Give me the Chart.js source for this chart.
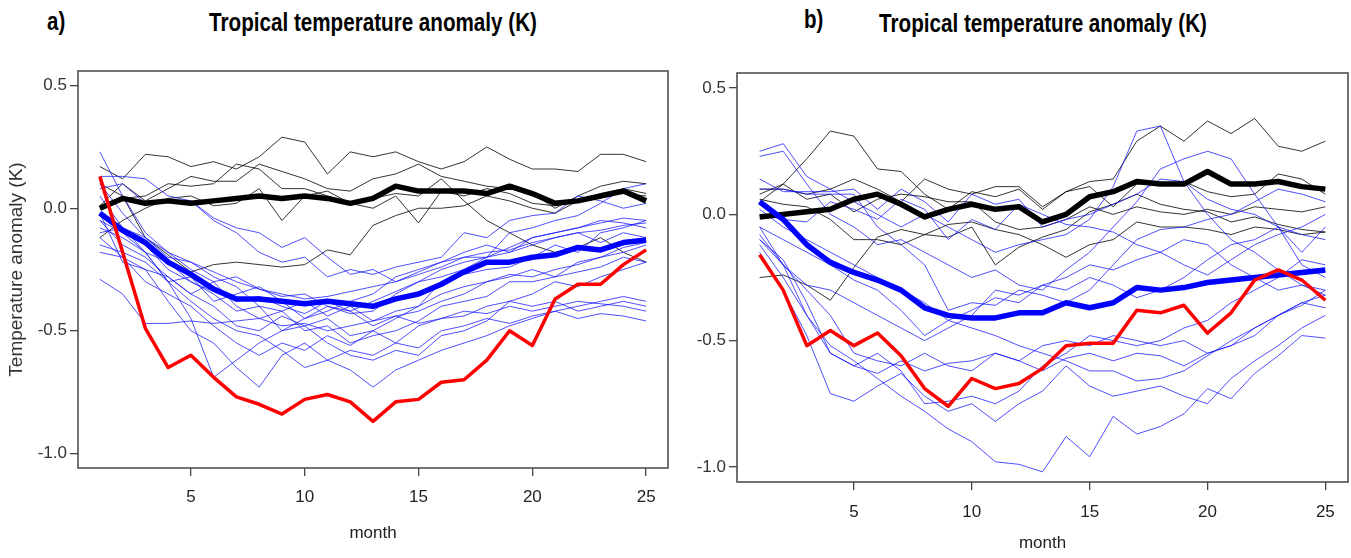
<!DOCTYPE html>
<html><head><meta charset="utf-8">
<script src="https://cdn.jsdelivr.net/npm/chart.js@4"></script>
<style>
body{margin:0;background:#fff;width:1351px;height:558px;overflow:hidden;position:relative}
canvas{position:absolute;top:0}
.t{position:absolute;font-family:'Liberation Sans',Arial,sans-serif;font-weight:bold;color:#000;white-space:nowrap;line-height:1;transform-origin:0 0}
</style></head><body>
<div class="t" style="left:47px;top:9px;font-size:25px;transform:scaleX(0.82)">a)</div>
<div class="t" style="left:373px;top:10px;font-size:25px;transform:scaleX(0.825) translateX(-50%)">Tropical temperature anomaly (K)</div>
<div class="t" style="left:804px;top:7px;font-size:25px;transform:scaleX(0.82)">b)</div>
<div class="t" style="left:1043px;top:11px;font-size:25px;transform:scaleX(0.825) translateX(-50%)">Tropical temperature anomaly (K)</div>
<canvas id="ca" width="680" height="558" style="left:0;width:680px;height:558px"></canvas>
<canvas id="cb" width="671" height="558" style="left:680px;width:671px;height:558px"></canvas>
<script>
const months = [1,2,3,4,5,6,7,8,9,10,11,12,13,14,15,16,17,18,19,20,21,22,23,24,25];
const yTicks = [-1.0, -0.5, 0.0, 0.5];
const xTicks = [5, 10, 15, 20, 25];

// ---- panel a ----
const aRed = [0.13,-0.18,-0.49,-0.65,-0.60,-0.69,-0.77,-0.80,-0.84,-0.78,-0.76,-0.79,-0.87,-0.79,-0.78,-0.71,-0.70,-0.62,-0.50,-0.56,-0.37,-0.31,-0.31,-0.23,-0.17];
const aBlueMean = [-0.02,-0.09,-0.14,-0.22,-0.27,-0.33,-0.37,-0.37,-0.38,-0.39,-0.38,-0.39,-0.40,-0.37,-0.35,-0.31,-0.26,-0.22,-0.22,-0.20,-0.19,-0.16,-0.17,-0.14,-0.13];
const aBlackMean = [0.00,0.04,0.02,0.03,0.02,0.03,0.04,0.05,0.04,0.05,0.04,0.02,0.04,0.09,0.07,0.07,0.07,0.06,0.09,0.06,0.02,0.03,0.05,0.07,0.03];
const aBlackThin = [
 [0.17,0.12,0.22,0.21,0.17,0.19,0.16,0.21,0.29,0.27,0.14,0.23,0.21,0.23,0.19,0.16,0.19,0.25,0.20,0.16,0.16,0.15,0.22,0.22,0.19],
 [0.01,0.10,0.03,0.08,0.13,0.11,0.11,0.18,0.15,0.12,0.08,0.07,0.12,0.14,0.18,0.13,0.11,0.09,0.08,0.06,0.00,0.05,0.09,0.11,0.10],
 [0.00,0.04,0.05,0.10,0.09,0.10,0.18,0.16,0.08,0.08,0.05,0.02,0.04,0.06,0.05,0.12,0.03,-0.05,-0.10,-0.15,-0.18,-0.16,-0.12,-0.18,-0.22],
 [-0.12,-0.05,0.00,0.04,0.05,0.01,0.02,0.08,-0.05,0.05,0.07,0.02,0.00,0.05,-0.06,0.07,0.05,0.08,0.06,0.02,0.01,0.03,0.06,0.08,0.06],
 [0.10,0.05,-0.12,-0.19,-0.26,-0.23,-0.22,-0.23,-0.24,-0.23,-0.17,-0.19,-0.07,-0.03,0.00,0.00,0.01,0.05,0.03,0.00,-0.02,0.03,0.05,0.06,0.05]
];
const aBlueThin = [
 [0.23,0.05,-0.10,-0.18,-0.25,-0.30,-0.28,-0.33,-0.36,-0.35,-0.40,-0.43,-0.42,-0.35,-0.30,-0.25,-0.22,-0.20,-0.10,-0.08,-0.05,-0.03,0.02,0.08,0.10],
 [0.13,0.13,0.12,0.05,0.03,-0.05,-0.10,-0.18,-0.22,-0.20,-0.28,-0.25,-0.27,-0.24,-0.22,-0.20,-0.10,-0.12,-0.05,-0.03,-0.02,0.05,0.03,0.00,0.02],
 [0.08,0.10,0.02,0.03,0.03,-0.04,-0.08,-0.10,-0.16,-0.12,-0.20,-0.27,-0.25,-0.30,-0.26,-0.22,-0.20,-0.20,-0.16,-0.12,-0.10,-0.08,-0.06,-0.04,-0.05],
 [-0.10,-0.08,-0.12,-0.20,-0.22,-0.28,-0.32,-0.40,-0.42,-0.38,-0.44,-0.40,-0.46,-0.42,-0.40,-0.30,-0.27,-0.25,-0.24,-0.20,-0.15,-0.18,-0.10,-0.08,-0.05],
 [-0.03,-0.10,-0.15,-0.25,-0.30,-0.35,-0.42,-0.40,-0.50,-0.48,-0.45,-0.52,-0.50,-0.45,-0.40,-0.35,-0.32,-0.30,-0.28,-0.25,-0.28,-0.22,-0.20,-0.18,-0.15],
 [-0.05,-0.15,-0.20,-0.28,-0.35,-0.30,-0.40,-0.45,-0.42,-0.50,-0.48,-0.55,-0.52,-0.50,-0.46,-0.40,-0.38,-0.36,-0.30,-0.30,-0.28,-0.26,-0.24,-0.20,-0.22],
 [-0.08,-0.12,-0.18,-0.30,-0.28,-0.38,-0.35,-0.32,-0.38,-0.45,-0.42,-0.38,-0.35,-0.28,-0.25,-0.22,-0.18,-0.15,-0.18,-0.12,-0.10,-0.08,-0.05,-0.06,-0.08],
 [-0.12,-0.20,-0.30,-0.35,-0.40,-0.48,-0.55,-0.60,-0.55,-0.58,-0.52,-0.56,-0.50,-0.55,-0.48,-0.45,-0.44,-0.40,-0.38,-0.40,-0.38,-0.42,-0.40,-0.38,-0.40],
 [-0.29,-0.35,-0.47,-0.47,-0.46,-0.47,-0.46,-0.45,-0.48,-0.47,-0.50,-0.48,-0.46,-0.44,-0.47,-0.45,-0.42,-0.43,-0.40,-0.42,-0.40,-0.38,-0.39,-0.40,-0.42],
 [-0.02,-0.22,-0.25,-0.38,-0.50,-0.55,-0.65,-0.73,-0.60,-0.55,-0.62,-0.58,-0.60,-0.55,-0.57,-0.50,-0.48,-0.45,-0.47,-0.44,-0.42,-0.45,-0.43,-0.44,-0.46],
 [0.05,-0.08,-0.18,-0.30,-0.45,-0.69,-0.62,-0.55,-0.50,-0.45,-0.40,-0.42,-0.38,-0.34,-0.30,-0.28,-0.25,-0.20,-0.18,-0.15,-0.12,-0.10,-0.14,-0.10,-0.12],
 [-0.15,-0.18,-0.22,-0.30,-0.38,-0.45,-0.50,-0.52,-0.58,-0.65,-0.62,-0.66,-0.73,-0.66,-0.62,-0.58,-0.55,-0.52,-0.48,-0.45,-0.42,-0.40,-0.38,-0.36,-0.38],
 [0.10,-0.02,-0.12,-0.18,-0.22,-0.26,-0.30,-0.33,-0.35,-0.37,-0.36,-0.34,-0.32,-0.30,-0.27,-0.24,-0.20,-0.18,-0.17,-0.14,-0.12,-0.10,-0.09,-0.07,-0.06],
 [-0.18,-0.20,-0.25,-0.28,-0.35,-0.40,-0.48,-0.50,-0.44,-0.48,-0.55,-0.60,-0.62,-0.58,-0.60,-0.52,-0.50,-0.46,-0.38,-0.35,-0.30,-0.32,-0.28,-0.25,-0.22],
 [-0.05,-0.10,-0.18,-0.22,-0.30,-0.34,-0.38,-0.36,-0.40,-0.43,-0.38,-0.42,-0.48,-0.44,-0.42,-0.38,-0.35,-0.30,-0.27,-0.28,-0.25,-0.23,-0.20,-0.16,-0.14]
];

// ---- panel b ----
const bRed = [-0.16,-0.30,-0.52,-0.46,-0.52,-0.47,-0.56,-0.69,-0.76,-0.65,-0.69,-0.67,-0.61,-0.52,-0.51,-0.51,-0.38,-0.39,-0.36,-0.47,-0.39,-0.26,-0.22,-0.26,-0.34];
const bBlueMean = [0.05,-0.02,-0.12,-0.19,-0.23,-0.26,-0.30,-0.37,-0.40,-0.41,-0.41,-0.39,-0.39,-0.35,-0.37,-0.35,-0.29,-0.30,-0.29,-0.27,-0.26,-0.25,-0.24,-0.23,-0.22];
const bBlackMean = [-0.01,0.00,0.01,0.02,0.06,0.08,0.04,-0.01,0.02,0.04,0.02,0.03,-0.03,0.00,0.07,0.09,0.13,0.12,0.12,0.17,0.12,0.12,0.13,0.11,0.10];
const bBlackThin = [
 [0.05,0.12,0.22,0.33,0.31,0.18,0.17,0.08,0.02,0.09,0.07,0.10,0.02,0.09,0.13,0.14,0.29,0.35,0.29,0.37,0.32,0.38,0.27,0.25,0.29],
 [0.10,0.10,0.08,0.10,0.14,0.10,0.05,0.14,0.10,0.08,0.11,0.11,0.03,0.09,0.11,0.03,0.12,0.12,0.13,0.09,0.07,0.08,0.16,0.14,0.08],
 [0.08,0.12,0.06,0.08,0.01,0.06,0.08,0.07,0.05,0.05,-0.03,-0.06,-0.05,-0.02,0.03,0.00,0.03,0.01,0.00,0.02,0.00,0.03,0.02,0.01,0.03],
 [-0.25,-0.24,-0.28,-0.34,-0.21,-0.09,-0.06,-0.08,-0.09,-0.05,-0.20,-0.13,-0.09,-0.06,0.01,0.04,0.08,0.04,0.02,0.01,-0.03,-0.01,-0.04,-0.06,-0.07],
 [0.06,0.04,0.03,-0.02,-0.10,-0.10,-0.12,-0.08,-0.04,-0.03,-0.06,-0.08,-0.12,-0.17,-0.12,-0.10,-0.03,-0.05,-0.05,-0.06,-0.08,-0.05,-0.06,-0.08,-0.07]
];
const bBlueThin = [
 [0.25,0.28,0.15,0.10,0.05,0.00,-0.05,0.00,-0.05,-0.10,-0.15,-0.12,-0.10,-0.08,-0.02,0.11,0.33,0.35,0.13,0.00,-0.10,-0.15,-0.22,-0.28,-0.30],
 [0.23,0.25,0.12,0.00,-0.05,-0.12,-0.10,-0.15,-0.20,-0.25,-0.22,-0.28,-0.30,-0.22,-0.15,-0.05,0.05,0.18,0.22,0.25,0.22,0.08,-0.05,-0.20,-0.25],
 [0.14,0.09,0.09,0.09,0.10,0.02,0.10,0.05,-0.03,0.08,0.04,0.06,-0.05,-0.02,0.00,0.04,0.08,0.14,0.13,0.06,0.02,0.00,-0.05,-0.15,-0.05],
 [0.00,-0.02,-0.03,0.05,0.02,-0.02,0.06,0.02,-0.10,-0.02,-0.06,0.04,0.00,-0.04,-0.05,-0.07,-0.12,-0.15,-0.10,-0.12,-0.20,-0.25,-0.30,-0.28,-0.32],
 [-0.05,-0.10,-0.15,-0.20,-0.26,-0.30,-0.38,-0.48,-0.42,-0.38,-0.33,-0.35,-0.28,-0.25,-0.20,-0.22,-0.18,-0.15,-0.20,-0.24,-0.18,-0.12,-0.08,-0.05,0.00],
 [-0.08,-0.20,-0.28,-0.30,-0.35,-0.40,-0.45,-0.50,-0.45,-0.40,-0.30,-0.32,-0.28,-0.30,-0.25,-0.28,-0.33,-0.30,-0.25,-0.18,-0.12,-0.10,-0.05,-0.08,-0.10],
 [-0.10,-0.18,-0.35,-0.55,-0.60,-0.55,-0.62,-0.75,-0.74,-0.72,-0.75,-0.70,-0.60,-0.55,-0.48,-0.50,-0.52,-0.50,-0.45,-0.42,-0.35,-0.30,-0.25,-0.18,-0.20],
 [-0.12,-0.25,-0.40,-0.55,-0.60,-0.63,-0.58,-0.62,-0.59,-0.58,-0.55,-0.58,-0.62,-0.57,-0.55,-0.58,-0.55,-0.56,-0.60,-0.55,-0.52,-0.45,-0.40,-0.36,-0.30],
 [-0.15,-0.30,-0.48,-0.71,-0.74,-0.68,-0.63,-0.72,-0.78,-0.75,-0.82,-0.75,-0.70,-0.60,-0.68,-0.72,-0.70,-0.68,-0.72,-0.75,-0.65,-0.58,-0.52,-0.45,-0.40],
 [-0.05,-0.20,-0.40,-0.52,-0.58,-0.65,-0.72,-0.78,-0.85,-0.90,-0.98,-0.99,-1.02,-0.88,-0.96,-0.80,-0.87,-0.84,-0.79,-0.69,-0.73,-0.63,-0.56,-0.48,-0.49],
 [-0.10,-0.20,-0.30,-0.40,-0.55,-0.58,-0.60,-0.55,-0.60,-0.62,-0.55,-0.58,-0.52,-0.50,-0.52,-0.48,-0.50,-0.52,-0.50,-0.55,-0.52,-0.48,-0.40,-0.35,-0.32],
 [0.02,-0.05,-0.10,-0.15,-0.20,-0.25,-0.30,-0.35,-0.42,-0.45,-0.48,-0.52,-0.55,-0.58,-0.62,-0.62,-0.66,-0.65,-0.62,-0.56,-0.50,-0.45,-0.40,-0.35,-0.37],
 [0.10,0.10,0.08,0.08,0.08,-0.05,-0.12,-0.20,-0.38,-0.35,-0.36,-0.30,-0.32,-0.35,-0.30,-0.20,-0.10,-0.06,-0.05,-0.02,0.00,0.05,0.10,0.08,0.05]
];

function pts(arr){ return months.map((m,i)=>({x:m,y:arr[i]})); }

function buildDatasets(red, blueMean, blackMean, blackThin, blueThin){
  const ds = [];
  ds.push({data:pts(red), borderColor:'#ff0000', borderWidth:3.5, order:0});
  ds.push({data:pts(blueMean), borderColor:'#0000ff', borderWidth:5.5, order:1});
  ds.push({data:pts(blackMean), borderColor:'#000000', borderWidth:5.5, order:2});
  blueThin.forEach(a=>ds.push({data:pts(a), borderColor:'rgba(20,20,255,0.75)', borderWidth:1, order:3}));
  blackThin.forEach(a=>ds.push({data:pts(a), borderColor:'rgba(0,0,0,0.8)', borderWidth:1, order:4}));
  ds.forEach(d=>{d.pointRadius=0; d.tension=0; d.fill=false; d.borderJoinStyle='round';});
  return ds;
}

const boxPlugin = {
  id:'box',
  afterDraw(chart){
    const a = chart.chartArea, ctx = chart.ctx;
    ctx.save(); ctx.strokeStyle='#444'; ctx.lineWidth=1.5;
    ctx.strokeRect(a.left, a.top, a.right-a.left, a.bottom-a.top);
    ctx.restore();
  }
};

function makeChart(id, ds, opt){
  return new Chart(document.getElementById(id), {
    type:'line',
    data:{datasets:ds},
    plugins:[boxPlugin],
    options:{
      responsive:false, animation:false, devicePixelRatio:1,
      layout:{padding:opt.padding},
      plugins:{legend:{display:false}, tooltip:{enabled:false}},
      scales:{
        x:{type:'linear', min:0.04, max:25.96,
           afterBuildTicks:s=>{s.ticks = xTicks.map(v=>({value:v}));},
           afterFit:s=>{s.height = opt.xh;},
           border:{display:false},
           grid:{drawOnChartArea:false, drawTicks:true, tickLength:8, color:'#444', lineWidth:1.3},
           ticks:{color:'#222', padding:opt.xpad, maxRotation:0, font:{family:"'Liberation Sans',Arial", size:17}, callback:v=>String(v)},
           title:{display:true, text:'month', color:'#222', padding:{top:0,bottom:4}, font:{family:"'Liberation Sans',Arial", size:17}}
        },
        y:{type:'linear', min:-1.06, max:0.56,
           afterBuildTicks:s=>{s.ticks = yTicks.map(v=>({value:v}));},
           afterFit:s=>{s.width = opt.yw;},
           border:{display:false},
           grid:{drawOnChartArea:false, drawTicks:true, tickLength:8, color:'#444', lineWidth:1.3},
           ticks:{color:'#333', padding:3, font:{family:"'Liberation Sans',Arial", size:17}, callback:v=>v.toFixed(1)},
           title:{display:opt.ytitle, text:'Temperature anomaly (K)', color:'#333', padding:{top:1,bottom:0}, font:{family:"'Liberation Sans',Arial", size:19}}
        }
      }
    }
  });
}

makeChart('ca', buildDatasets(aRed,aBlueMean,aBlackMean,aBlackThin,aBlueThin),
  {padding:{left:4, top:71, right:12, bottom:10}, yw:74, xh:80, xpad:11, ytitle:true});
makeChart('cb', buildDatasets(bRed,bBlueMean,bBlackMean,bBlackThin,bBlueThin),
  {padding:{left:7, top:73, right:3, bottom:0}, yw:50, xh:76, xpad:12, ytitle:false});
</script>
</body></html>
